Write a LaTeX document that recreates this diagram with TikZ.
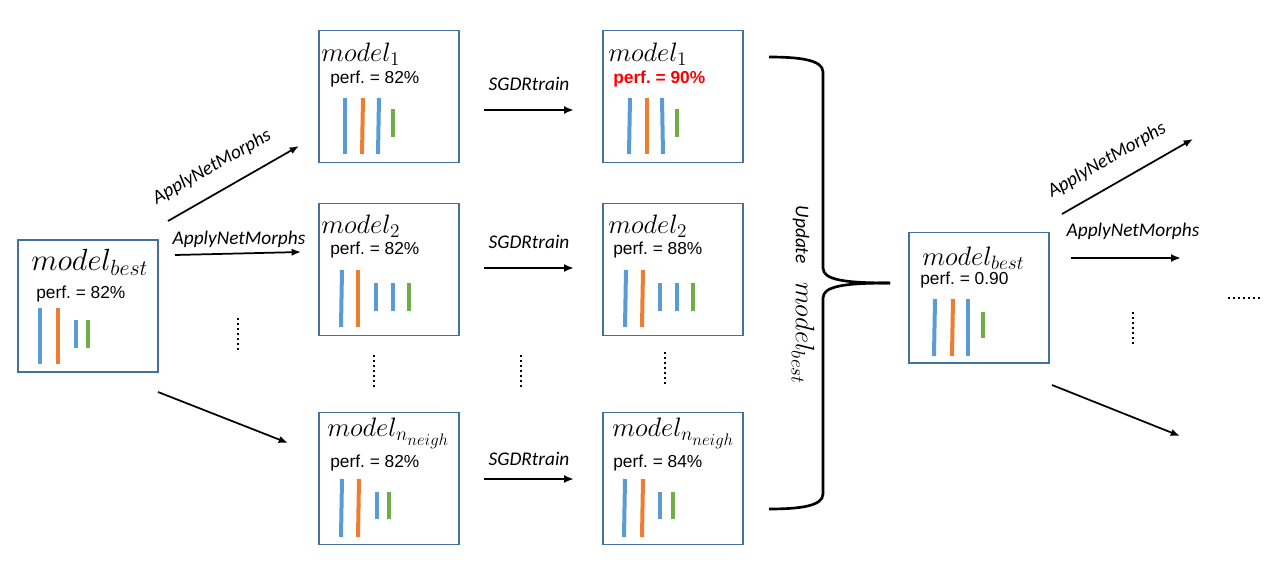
\RequirePackage{fix-cm}
\documentclass[tikz,border=0pt]{standalone}
\usepackage{fontspec}
\setmainfont{Liberation Sans}
\newfontfamily\labfont{Carlito}
\usetikzlibrary{arrows.meta}
\frenchspacing
\DeclareMathSizes{20}{20}{14.5}{12.5}
\DeclareMathSizes{23}{23}{16.5}{13}
\definecolor{boxblue}{HTML}{41719C}
\definecolor{cblue}{HTML}{5B9BD5}
\definecolor{corange}{HTML}{ED7D31}
\definecolor{cgreen}{HTML}{70AD47}
\tikzset{
  box/.style={draw=boxblue, line width=1pt, minimum width=105pt, minimum height=99pt, inner sep=0pt},
  mtitle/.style={anchor=west, inner sep=0pt, font=\fontsize{20}{24}\selectfont},
  perf/.style={anchor=west, inner sep=0pt, font=\fontsize{13}{15}\selectfont},
  lab/.style={inner sep=0pt, font=\labfont\itshape\fontsize{14.5}{17}\selectfont},
  bar/.style={line width=3pt},
  arr/.style={line width=1.3pt, -{Latex[length=7pt,width=5.5pt]}},
  arrb/.style={line width=1.8pt, -{Latex[length=7.5pt,width=6pt]}},
  vdots/.style={line width=1.6pt, dash pattern=on 1.2pt off 2.6pt},
  brace/.style={line width=2pt}
}
\begin{document}
\begin{tikzpicture}[x=0.75pt,y=-0.75pt]
\useasboundingbox (0,0) rectangle (1286,564);
% boxes
\node[box] (b0) at (88,306) {};
\node[box] (m1) at (389,96.5) {};
\node[box] (m1r) at (673,96.5) {};
\node[box] (m2) at (389,269.5) {};
\node[box] (m2r) at (673,269.5) {};
\node[box] (mn) at (389,478.5) {};
\node[box] (mnr) at (673,478.5) {};
\node[box, minimum height=98pt] (bR) at (979,297.5) {};
% titles
\node[mtitle, font=\fontsize{23}{27}\selectfont] (t0) at (31,262) {$model_{best}$};
\node[perf] (p0) at (36,294) {perf. = 82\%};
\node[mtitle] (t1) at (321,54) {$model_1$};
\node[perf] (p1) at (330,79) {perf. = 82\%};
\node[mtitle] (t1r) at (608,54) {$model_1$};
\node[perf, text=red, font=\bfseries\fontsize{13}{15}\selectfont] (p1r) at (613,79) {perf. = 90\%};
\node[mtitle] (t2) at (321,226) {$model_2$};
\node[perf] (p2) at (330,250) {perf. = 82\%};
\node[mtitle] (t2r) at (608,226) {$model_2$};
\node[perf] (p2r) at (613,250) {perf. = 88\%};
\node[mtitle] (tn) at (327,433) {$model_{n_{neigh}}$};
\node[perf] (pn) at (330,463) {perf. = 82\%};
\node[mtitle] (tnr) at (612,433) {$model_{n_{neigh}}$};
\node[perf] (pnr) at (613,463) {perf. = 84\%};
\node[mtitle] (tR) at (922,258) {$model_{best}$};
\node[perf] (pR) at (920,280) {perf. = 0.90};
% bars left best
\draw[bar,cblue] (40,308) -- (40,364);
\draw[bar,corange] (58,308) -- (58,364);
\draw[bar,cblue] (76,320) -- (76,348);
\draw[bar,cgreen] (88,320) -- (88,348);
% bars m1
\draw[bar,cblue] (345,98) -- (345,154);
\draw[bar,corange] (363,98) -- (362,154);
\draw[bar,cblue] (379,98) -- (378,154);
\draw[bar,cgreen] (393,109) -- (393,137);
% bars m1r
\draw[bar,cblue] (630,98) -- (629,154);
\draw[bar,corange] (647,98) -- (647,154);
\draw[bar,cblue] (662,98) -- (663,154);
\draw[bar,cgreen] (677,109) -- (677,137);
% bars m2
\draw[bar,cblue] (342,270) -- (341,327);
\draw[bar,corange] (358,270) -- (358,327);
\draw[bar,cblue] (376,283) -- (376,311);
\draw[bar,cblue] (393,283) -- (393,311);
\draw[bar,cgreen] (409,283) -- (409,311);
% bars m2r
\draw[bar,cblue] (626,270) -- (625,327);
\draw[bar,corange] (643,270) -- (642,327);
\draw[bar,cblue] (660,283) -- (660,311);
\draw[bar,cblue] (677,283) -- (677,311);
\draw[bar,cgreen] (693,283) -- (693,311);
% bars mn
\draw[bar,cblue] (342,479) -- (341,537);
\draw[bar,corange] (359,479) -- (358,537);
\draw[bar,cblue] (377,492) -- (377,519);
\draw[bar,cgreen] (389,492) -- (389,519);
% bars mnr
\draw[bar,cblue] (625,479) -- (624,537);
\draw[bar,corange] (643,479) -- (642,537);
\draw[bar,cblue] (660,492) -- (660,519);
\draw[bar,cgreen] (673,492) -- (673,519);
% bars bR
\draw[bar,cblue] (935,299) -- (934,356);
\draw[bar,corange] (953,299) -- (952,356);
\draw[bar,cblue] (968,299) -- (968,356);
\draw[bar,cgreen] (983,312) -- (983,338);
% left arrows
\coordinate (a1s) at (168,221); \coordinate (a1e) at (299,146);
\coordinate (a2s) at (175,255); \coordinate (a2e) at (301,252);
\coordinate (a3s) at (158,392); \coordinate (a3e) at (288,443);
\draw[arr] (a1s) -- (a1e);
\draw[arr] (a2s) -- (a2e);
\draw[arr] (a3s) -- (a3e);
\node[lab, rotate=29.7] (l1) at (212,167) {ApplyNetMorphs};
\node[lab] (l2) at (239,239) {ApplyNetMorphs};
% SGDR arrows
\coordinate (s1s) at (484,110); \coordinate (s1e) at (574,110);
\coordinate (s2s) at (484,268); \coordinate (s2e) at (574,268);
\coordinate (s3s) at (484,479); \coordinate (s3e) at (574,479);
\draw[arrb] (s1s) -- (s1e);
\draw[arrb] (s2s) -- (s2e);
\draw[arrb] (s3s) -- (s3e);
\node[lab] (sl1) at (529,84) {SGDRtrain};
\node[lab] (sl2) at (529,242) {SGDRtrain};
\node[lab] (sl3) at (529,459) {SGDRtrain};
% dots
\draw[vdots] (238,318) -- (238,350);
\draw[vdots] (374,355) -- (374,387);
\draw[vdots] (521,355) -- (521,387);
\draw[vdots] (665,352) -- (665,384);
\draw[vdots] (1133,312) -- (1133,344);
\draw[vdots] (1228,298) -- (1262,298);
% brace
\draw[brace] (769,57) .. controls (800,57) and (823,60) .. (823,72)
  -- (823,268) .. controls (823,280) and (845,283) .. (890,283);
\draw[brace] (890,283) .. controls (845,283) and (823,286) .. (823,298)
  -- (823,494) .. controls (823,506) and (800,509) .. (769,509);
\node[lab, rotate=-90] (up) at (803,295) {Update\hspace{14pt}\upshape\fontsize{20}{24}\selectfont$model_{best}$};
% right arrows
\coordinate (r1s) at (1062,214); \coordinate (r1e) at (1193,139);
\coordinate (r2s) at (1071,258); \coordinate (r2e) at (1181,258);
\coordinate (r3s) at (1052,385); \coordinate (r3e) at (1180,436);
\draw[arr] (r1s) -- (r1e);
\draw[arrb] (r2s) -- (r2e);
\draw[arr] (r3s) -- (r3e);
\node[lab, rotate=30] (rl1) at (1107,160) {ApplyNetMorphs};
\node[lab] (rl2) at (1133,231) {ApplyNetMorphs};
\end{tikzpicture}
\end{document}
